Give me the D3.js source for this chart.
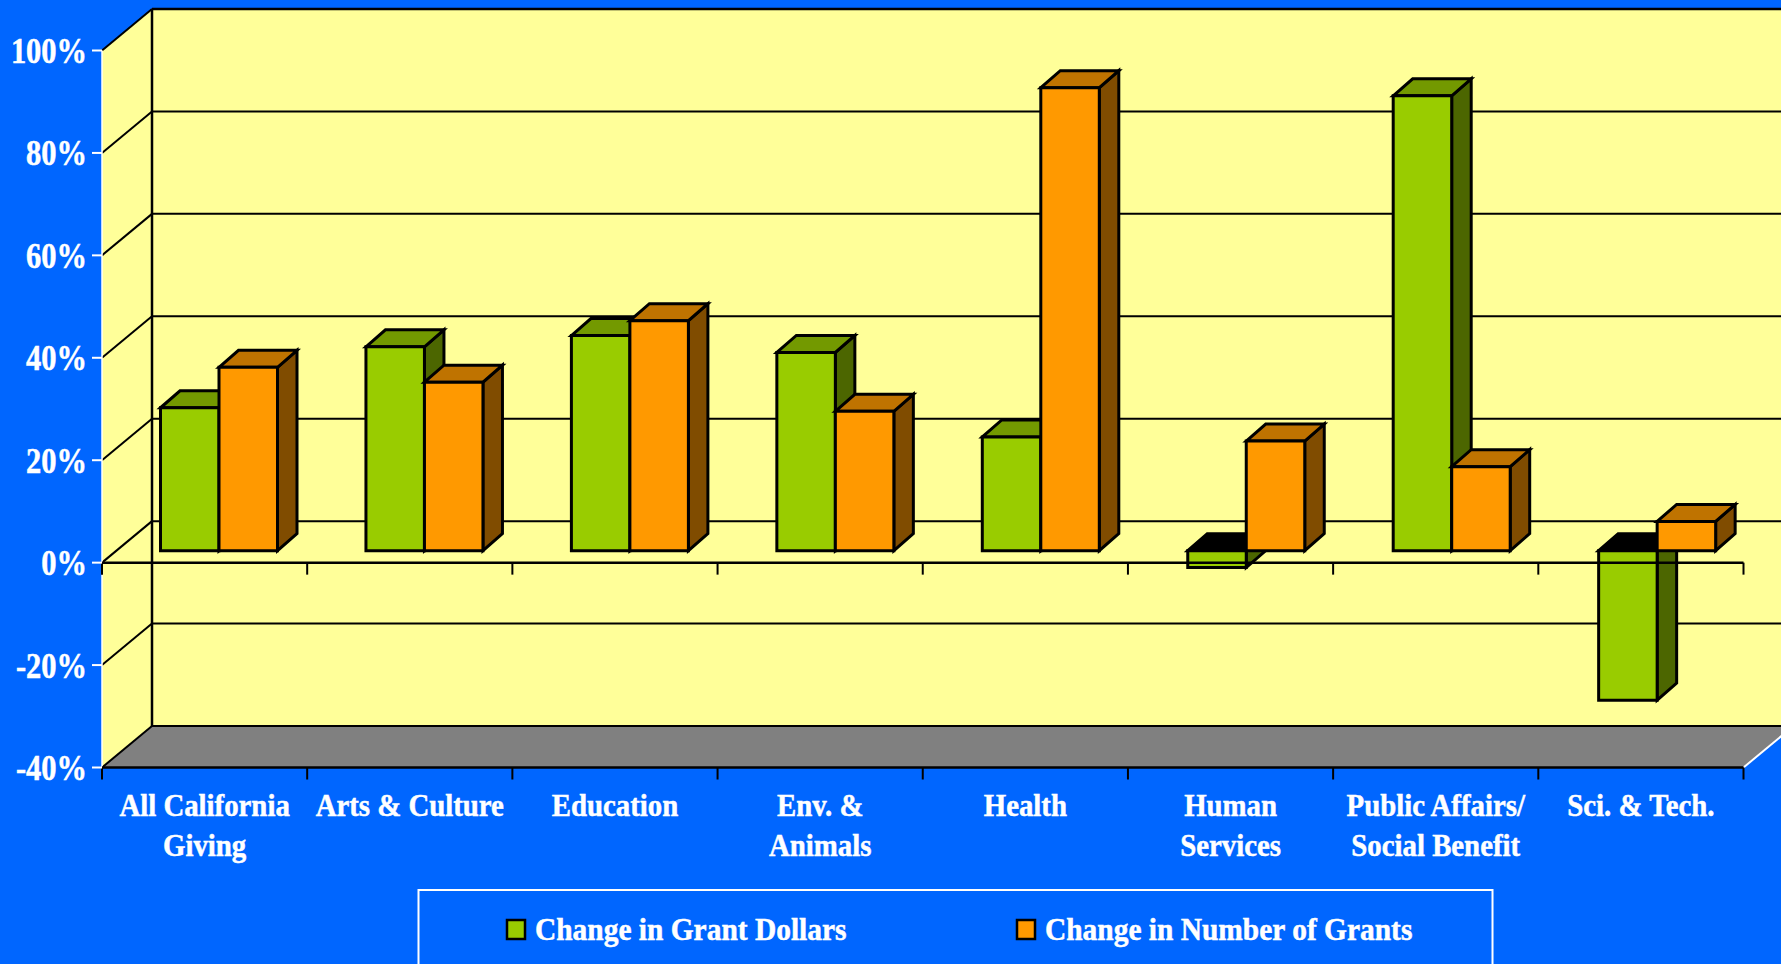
<!DOCTYPE html>
<html>
<head>
<meta charset="utf-8">
<script src="https://cdn.jsdelivr.net/npm/d3@7"></script>
<style>
html,body{margin:0;padding:0;background:#0066FF;overflow:hidden}
svg{display:block}
text{font-family:"Liberation Serif","Times New Roman",serif;font-weight:bold;fill:#fff;stroke:#fff;stroke-width:0.5px}
</style>
</head>
<body>
<svg id="chart" width="1781" height="964"></svg>
<script>
const categories = [["All California","Giving"],["Arts & Culture"],["Education"],["Env. &","Animals"],["Health"],["Human","Services"],["Public Affairs/","Social Benefit"],["Sci. & Tech."]];
const seriesNames = ["Change in Grant Dollars","Change in Number of Grants"];
const grantDollars = [27.9,39.8,42,38.7,22.2,-3.3,88.8,-29.2];
const grantCounts = [35.8,32.9,44.9,27.2,90.4,21.4,16.4,5.7];
const yTicks = [-40,-20,0,20,40,60,80,100];
const palette = [{front:"#99CC00",top:"#739900",side:"#4C6600"},{front:"#FF9900",top:"#BF7300",side:"#804C00"}];

const svg=d3.select("#chart");
const depth={x:50,y:-41.5};
const barDepth={x:19.5,y:-17};
const barPlane={x:14,y:-12};
const left=102,right=1743.5;
const y=d3.scaleLinear().domain([-40,100]).range([767.5,50.5]);
const catAxis=d3.scaleBand().domain(d3.range(categories.length)).range([left,right]);
const catBars=d3.scaleBand().domain(d3.range(categories.length)).range([116,116+8*205.45]);
const inner=d3.scaleBand().domain([0,1]).range([44.5,161.5]);
const line=(a,b,c,w)=>svg.append("line").attr("x1",a[0]).attr("y1",a[1]).attr("x2",b[0]).attr("y2",b[1]).attr("stroke",c).attr("stroke-width",w);
const poly=(pts,fill,stroke,w)=>svg.append("polygon").attr("points",pts.map(p=>p.join(",")).join(" ")).attr("fill",fill).attr("stroke",stroke||"none").attr("stroke-width",w||0).attr("stroke-linejoin","miter");

const yT=y(100),yB=y(-40),bx=left+depth.x,far=right+depth.x;
poly([[bx,yT+depth.y],[far,yT+depth.y],[far,yB+depth.y],[bx,yB+depth.y]],"#FFFF99");
poly([[left,yT],[bx,yT+depth.y],[bx,yB+depth.y],[left,yB]],"#FFFF99");
poly([[left,yB],[bx,yB+depth.y],[far,yB+depth.y],[right,yB]],"#808080");
yTicks.forEach(t=>{
  line([left,y(t)],[bx,y(t)+depth.y],"#000",2);
  line([bx,y(t)+depth.y],[far,y(t)+depth.y],"#000",t===100?2.5:2);
});
line([bx,yT+depth.y],[bx,yB+depth.y],"#000",2.5);
line([left,yT],[left,yB],"#fff",1.5);
line([right,yB],[far,yB+depth.y],"#fff",2);

[0,-40].forEach(v=>{
  line([left,y(v)],[right,y(v)],"#000",2.5);
  d3.range(categories.length+1).forEach(i=>{
    const x=i<categories.length?catAxis(i):right;
    line([x,y(v)],[x,y(v)+12],"#000",2);
  });
});
yTicks.forEach(t=>{
  line([92,y(t)],[left,y(t)],"#fff",2);
  svg.append("text").attr("transform",`translate(87,${y(t)+12.5}) scale(0.87,1)`).attr("text-anchor","end").attr("font-size",35).text(t+"%");
});

const plane=v=>y(v)+barPlane.y;
function bar(i,s,v){
  const x0=catBars(i)+inner(s),x1=x0+inner.bandwidth();
  const top=Math.max(v,0),bot=Math.min(v,0);
  const c=palette[s];
  const dx=barDepth.x,dy=barDepth.y;
  const yt=plane(top),yb=plane(bot);
  poly([[x1,yt],[x1+dx,yt+dy],[x1+dx,yb+dy],[x1,yb]],c.side,"#000",3);
  poly([[x0,yt],[x0+dx,yt+dy],[x1+dx,yt+dy],[x1,yt]],v<0?"#000":c.top,"#000",3);
  poly([[x0,yt],[x1,yt],[x1,yb],[x0,yb]],c.front,"#000",3);
  // the zero axis stays visible across a bar that drops below it
  if(v<0){
    const reach=Math.min(dx,(yb-y(0))/(-dy)*dx);
    line([x0,y(0)],[x1+reach,y(0)],"#000",2.5);
  }
}
categories.forEach((_,i)=>{
  bar(i,0,grantDollars[i]);
  bar(i,1,grantCounts[i]);
});

categories.forEach((lines,i)=>{
  const cx=catAxis(i)+catAxis.bandwidth()/2;
  lines.forEach((l,k)=>{
    svg.append("text").attr("transform",`translate(${cx},${816+k*40}) scale(0.9,1)`).attr("text-anchor","middle").attr("font-size",32).text(l);
  });
});

svg.append("rect").attr("x",418.5).attr("y",890).attr("width",1074).attr("height",120).attr("fill","none").attr("stroke","#fff").attr("stroke-width",2);
[[507,535],[1017,1045]].forEach((p,s)=>{
  svg.append("rect").attr("x",p[0]).attr("y",920).attr("width",18).attr("height",19).attr("fill",palette[s].front).attr("stroke","#000").attr("stroke-width",2.5);
  svg.append("text").attr("transform",`translate(${p[1]},940) scale(0.92,1)`).attr("font-size",32).text(seriesNames[s]);
});
</script>
</body>
</html>
